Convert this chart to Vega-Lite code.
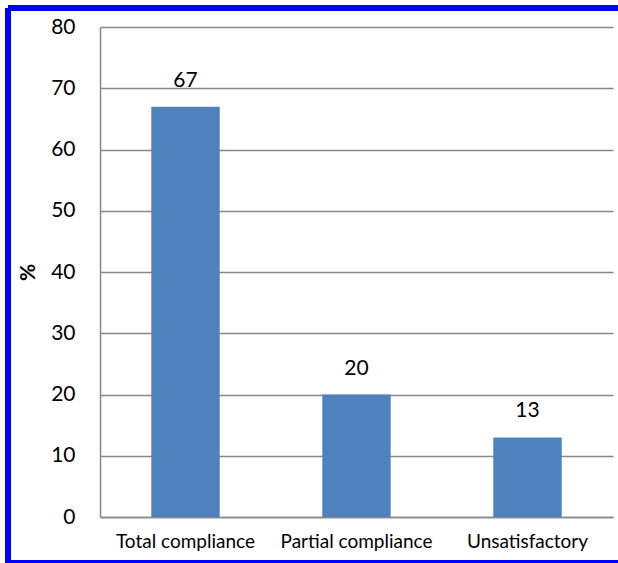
{
  "$schema": "https://vega.github.io/schema/vega-lite/v6.json",
  "width": 513,
  "height": 490,
  "autosize": "none",
  "padding": {"left": 100, "top": 27, "right": 5, "bottom": 46},
  "background": "white",
  "config": {
    "view": {"stroke": null},
    "font": "Lato"
  },
  "data": {
    "values": [
      {"category": "Total compliance", "pct": 67},
      {"category": "Partial compliance", "pct": 20},
      {"category": "Unsatisfactory", "pct": 13}
    ]
  },
  "layer": [
    {
      "encoding": {
        "x": {
          "field": "category", "type": "nominal", "sort": null,
          "scale": {"paddingInner": 0.6, "paddingOuter": 0.3},
          "axis": {
            "title": null, "labelAngle": 0, "labelFontSize": 19, "labelColor": "#000",
            "labelPadding": 15, "ticks": false, "domainColor": "#888", "domainWidth": 1.5
          }
        },
        "y": {
          "field": "pct", "type": "quantitative",
          "scale": {"domain": [0, 80]},
          "axis": {
            "values": [0, 10, 20, 30, 40, 50, 60, 70, 80],
            "title": "%", "titleFontSize": 21, "titleFontWeight": "bold", "titleColor": "#000",
            "titlePadding": 12, "labelFontSize": 21, "labelColor": "#000", "labelPadding": 25,
            "ticks": false, "domainColor": "#888", "domainWidth": 1.5,
            "gridColor": "#888", "gridWidth": 1.5
          }
        }
      },
      "layer": [
        {"mark": {"type": "bar", "color": "#4F81BD"}},
        {
          "mark": {"type": "text", "baseline": "bottom", "dy": -16, "fontSize": 21, "color": "#000"},
          "encoding": {"text": {"field": "pct", "type": "quantitative"}}
        }
      ]
    },
    {
      "data": {"values": [{"frame": "border"}]},
      "layer": [
        {
          "mark": {"type": "rule", "stroke": "#0000FF", "strokeWidth": 6, "clip": false},
          "encoding": {
            "x": {"datum": -0.1793, "type": "quantitative", "scale": {"domain": [0, 1]}, "axis": null},
            "y": {"datum": 83.1, "type": "quantitative"},
            "y2": {"datum": -7.5}
          }
        },
        {
          "mark": {"type": "rule", "stroke": "#0000FF", "strokeWidth": 6, "clip": false},
          "encoding": {
            "x": {"datum": -0.1793, "type": "quantitative", "scale": {"domain": [0, 1]}, "axis": null},
            "x2": {"datum": 1.2},
            "y": {"datum": 83.1, "type": "quantitative"}
          }
        },
        {
          "mark": {"type": "rule", "stroke": "#0000FF", "strokeWidth": 6, "clip": false},
          "encoding": {
            "x": {"datum": -0.1793, "type": "quantitative", "scale": {"domain": [0, 1]}, "axis": null},
            "x2": {"datum": 1.2},
            "y": {"datum": -7.5, "type": "quantitative"}
          }
        }
      ]
    }
  ],
  "resolve": {"scale": {"x": "independent"}}
}
